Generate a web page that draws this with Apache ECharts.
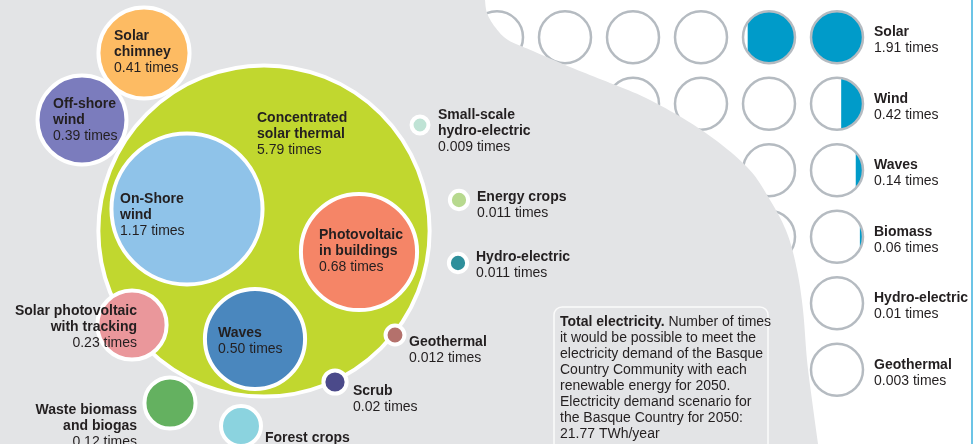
<!DOCTYPE html>
<html>
<head>
<meta charset="utf-8">
<script src="https://cdn.jsdelivr.net/npm/echarts@6/dist/echarts.min.js"></script>
<style>
html, body { margin: 0; padding: 0; background: #fff; }
#main { width: 976px; height: 444px; }
</style>
</head>
<body>
<div id="main"></div>
<script>
// times the 2050 electricity demand could be met, per renewable source
const sourceNames = ['Concentrated\nsolar thermal', 'On-Shore\nwind', 'Photovoltaic\nin buildings', 'Waves',
    'Solar\nchimney', 'Off-shore\nwind', 'Solar photovoltaic\nwith tracking', 'Waste biomass\nand biogas',
    'Forest crops', 'Scrub', 'Geothermal', 'Small-scale\nhydro-electric', 'Energy crops', 'Hydro-electric'];
const sourceValues = [5.79, 1.17, 0.68, 0.50, 0.41, 0.39, 0.23, 0.12, 0.07, 0.02, 0.012, 0.009, 0.011, 0.011];
const sourceColors = ['#c1d72f', '#8fc3e9', '#f58567', '#4a87be', '#fdbb63', '#7b7cbd', '#ea979b', '#64b160',
    '#8bd3df', '#4b4a8a', '#b4716c', '#bfe3d5', '#b7d98f', '#2e8f9b'];

// bubble centres (px) and label anchor relative to the centre
const bubbleX = [264, 187, 359, 255, 144, 82, 132, 170, 241, 335, 395, 420, 459, 458];
const bubbleY = [231, 209, 252, 339, 53, 120, 325, 403, 426, 382, 335, 125, 200, 263];
const labelDx = [-7, -67, -40, -37, -30, -29, 5, -33, 24, 18, 14, 18, 18, 18];
const labelDy = [-121, -18, -25, -14, -25, -24, -22, -1, 4, 1, -1, -18, -11, -14];
const labelAlign = ['left', 'left', 'left', 'left', 'left', 'left', 'right', 'right',
    'left', 'left', 'left', 'left', 'left', 'left'];

// grouped sources, drawn as rows of tokens (one token = 1 times)
const groupNames = ['Solar', 'Wind', 'Waves', 'Biomass', 'Hydro-electric', 'Geothermal'];
const groupValues = [1.91, 0.42, 0.14, 0.06, 0.01, 0.003];
const tokenCols = ['1', '2', '3', '4', '5', '6'];

const noteBold = 'Total electricity.';
const noteText = ' Number of times\nit would be possible to meet the\nelectricity demand of the Basque\nCountry Community with each\nrenewable energy for 2050.\nElectricity demand scenario for\nthe Basque Country for 2050:\n21.77 TWh/year';

const FONT = "'Liberation Sans', Arial, sans-serif";
const FS = 14;
const INK = '#231f20';
const K = 68; // radius px per sqrt(times)

function fmt(v) {
    const s = String(v);
    const d = s.indexOf('.') >= 0 ? s.split('.')[1].length : 0;
    return v.toFixed(Math.max(2, d));
}

// edge of the grey sheet over the token grid
const edge = [[485, 0], [487, 13], [495, 27], [508, 40], [533, 51], [570, 67], [610, 83], [650, 100],
    [703, 131], [747, 167], [770, 200], [787, 233], [797, 270], [803, 310], [807, 360], [812, 400], [818, 444]];

function sampleCurve(pts) {
    const out = [];
    for (let i = 0; i < pts.length - 1; i++) {
        const p0 = pts[i - 1] || pts[i], p1 = pts[i], p2 = pts[i + 1], p3 = pts[i + 2] || pts[i + 1];
        for (let s = 0; s < 10; s++) {
            const t = s / 10, t2 = t * t, t3 = t2 * t;
            const f = (a, b, c, d) => 0.5 * ((2 * b) + (-a + c) * t + (2 * a - 5 * b + 4 * c - d) * t2 + (-a + 3 * b - 3 * c + d) * t3);
            out.push([f(p0[0], p1[0], p2[0], p3[0]), f(p0[1], p1[1], p2[1], p3[1])]);
        }
    }
    out.push(pts[pts.length - 1]);
    return out;
}

function segment(cx, cy, r, frac) {
    const w = Math.min(frac, 1) * 2 * r;
    const a = Math.acos(Math.max(-1, Math.min(1, (r - w) / r)));
    const pts = [];
    for (let i = 0; i <= 40; i++) {
        const t = -a + 2 * a * i / 40;
        pts.push([cx + r * Math.cos(t), cy + r * Math.sin(t)]);
    }
    return pts;
}

const bubbleData = sourceValues.map((v, i) => [bubbleX[i], bubbleY[i], v, i]);

const tokenData = [];
groupValues.forEach((v, r) => {
    tokenCols.forEach((c, j) => {
        const fill = Math.max(0, Math.min(1, v - (tokenCols.length - 1 - j)));
        tokenData.push([j, r, fill]);
    });
});

const chart = echarts.init(document.getElementById('main'));

const option = {
    animation: false,
    backgroundColor: '#fff',
    textStyle: { fontFamily: FONT },
    grid: [
        { left: 0, right: 0, top: 0, bottom: 0 },
        { left: 463, width: 408, top: 4, height: 399 }
    ],
    xAxis: [
        { type: 'value', min: 0, max: 976, show: false, gridIndex: 0 },
        { type: 'category', data: tokenCols, show: false, gridIndex: 1 }
    ],
    yAxis: [
        { type: 'value', min: 0, max: 444, inverse: true, show: false, gridIndex: 0 },
        {
            type: 'category',
            gridIndex: 1,
            data: groupNames,
            inverse: true,
            position: 'right',
            axisLine: { show: false },
            axisTick: { show: false },
            splitLine: { show: false },
            axisLabel: {
                margin: 3,
                align: 'left',
                padding: [6, 0, 0, 0],
                formatter: (name, idx) => '{b|' + name + '}\n{n|' + fmt(groupValues[idx]) + ' times}',
                rich: {
                    b: { fontFamily: FONT, fontSize: FS, fontWeight: 'bold', lineHeight: 16, color: INK },
                    n: { fontFamily: FONT, fontSize: FS, lineHeight: 16, color: INK }
                }
            }
        }
    ],
    graphic: [
        {
            type: 'polygon',
            z: 5,
            silent: true,
            shape: { points: [[0, 0]].concat(sampleCurve(edge), [[0, 444]]) },
            style: { fill: '#e3e4e6' }
        },
        {
            type: 'rect',
            z: 6,
            silent: true,
            shape: { x: 554, y: 307, width: 214, height: 170, r: 8 },
            style: { fill: 'none', stroke: '#fbfbfb', lineWidth: 1.5 }
        },
        {
            type: 'text',
            z: 6,
            x: 560,
            y: 314,
            style: {
                text: '{b|' + noteBold + '}' + noteText,
                fontFamily: FONT,
                fontSize: FS,
                lineHeight: 16,
                fill: INK,
                rich: {
                    b: { fontFamily: FONT, fontSize: FS, fontWeight: 'bold', lineHeight: 16, fill: INK }
                }
            }
        },
        {
            type: 'line',
            z: 6,
            silent: true,
            shape: { x1: 972, y1: 0, x2: 972, y2: 444 },
            style: { stroke: '#6cc4e6', lineWidth: 2 }
        }
    ],
    series: [
        {
            type: 'custom',
            name: 'tokens',
            xAxisIndex: 1,
            yAxisIndex: 1,
            z: 1,
            encode: { x: 0, y: 1 },
            data: tokenData,
            renderItem: (params, api) => {
                const p = api.coord([api.value(0), api.value(1)]);
                const r = 26;
                const f = api.value(2);
                const children = [{ type: 'circle', shape: { cx: p[0], cy: p[1], r: r }, style: { fill: '#fff' } }];
                if (f > 0) {
                    children.push({ type: 'polygon', shape: { points: segment(p[0], p[1], r, f) }, style: { fill: '#009bc9' } });
                }
                children.push({ type: 'circle', shape: { cx: p[0], cy: p[1], r: r }, style: { fill: 'none', stroke: '#b5bbc1', lineWidth: 2.5 } });
                return { type: 'group', children: children };
            }
        },
        {
            type: 'custom',
            name: 'sources',
            xAxisIndex: 0,
            yAxisIndex: 0,
            z: 10,
            encode: { x: 0, y: 1 },
            data: bubbleData,
            renderItem: (params, api) => {
                const i = api.value(3);
                const v = api.value(2);
                const p = api.coord([api.value(0), api.value(1)]);
                const r = K * Math.sqrt(v);
                const text = sourceNames[i].split('\n').map(l => '{b|' + l + '}').join('\n') +
                    '\n{n|' + fmt(v) + ' times}';
                return {
                    type: 'group',
                    children: [
                        {
                            type: 'circle',
                            shape: { cx: p[0], cy: p[1], r: r + 2 },
                            style: { fill: sourceColors[i], stroke: '#fff', lineWidth: 4 }
                        },
                        {
                            type: 'text',
                            x: p[0] + labelDx[i],
                            y: p[1] + labelDy[i],
                            style: {
                                text: text,
                                align: labelAlign[i],
                                verticalAlign: 'top',
                                fill: INK,
                                rich: {
                                    b: { fontFamily: FONT, fontSize: FS, fontWeight: 'bold', lineHeight: 16, fill: INK, align: labelAlign[i] },
                                    n: { fontFamily: FONT, fontSize: FS, lineHeight: 16, fill: INK, align: labelAlign[i] }
                                }
                            }
                        }
                    ]
                };
            }
        }
    ]
};

chart.setOption(option);

window.addEventListener('resize', function () {
    chart.resize();
});
</script>
</body>
</html>
